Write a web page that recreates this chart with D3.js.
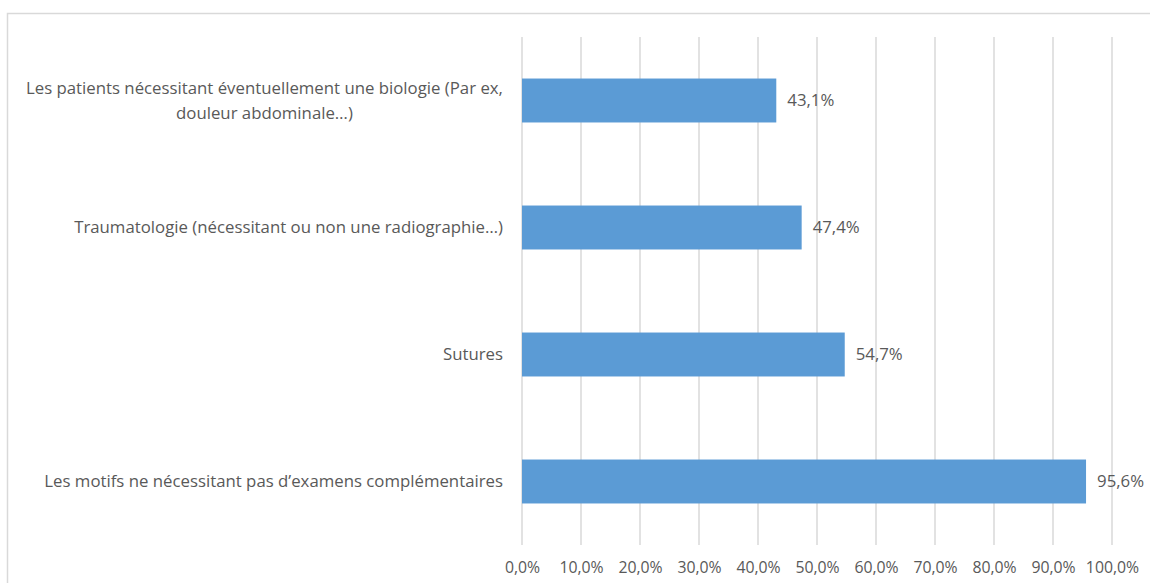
<!DOCTYPE html>
<html>
<head>
<meta charset="utf-8">
<script src="https://cdn.jsdelivr.net/npm/d3@7.9.0/dist/d3.min.js"></script>
<style>
  body { margin: 0; background: #fff; }
  svg { display: block; }
  text { font-family: "Open Sans", sans-serif; fill: #595959; }
</style>
</head>
<body>
<svg id="chart" width="1150" height="583"></svg>
<script>
// Data
const categories = [
    ["Les patients nécessitant éventuellement une biologie (Par ex,", "douleur abdominale…)"],
    ["Traumatologie (nécessitant ou non une radiographie…)"],
    ["Sutures"],
    ["Les motifs ne nécessitant pas d’examens complémentaires"]
];
const values = [0.431, 0.474, 0.547, 0.956];
const ticks = [0, 0.1, 0.2, 0.3, 0.4, 0.5, 0.6, 0.7, 0.8, 0.9, 1.0];

const fr = d3.formatLocale({ decimal: ",", thousands: " ", grouping: [3], currency: ["", " €"] });
const pct = fr.format(".1%");

const svg = d3.select("#chart");

// Outer chart border (right and bottom edges run off the picture)
svg.append("rect")
    .attr("x", 7.5)
    .attr("y", 13.5)
    .attr("width", 1200)
    .attr("height", 700)
    .attr("fill", "none")
    .attr("stroke", "#d9d9d9")
    .attr("stroke-width", 1.5);

const x = d3.scaleLinear()
    .domain([0, 1])
    .range([522, 1112]);

const y = d3.scaleBand()
    .domain(d3.range(categories.length))
    .range([37, 545])
    .paddingInner(0.654)
    .paddingOuter(0.327);

// Vertical gridlines
svg.append("g")
    .selectAll("line")
    .data(ticks)
    .enter()
    .append("line")
    .attr("x1", d => x(d))
    .attr("x2", d => x(d))
    .attr("y1", 37)
    .attr("y2", 545)
    .attr("stroke", "#d9d9d9")
    .attr("stroke-width", 1.5);

// Bars
svg.append("g")
    .selectAll("rect")
    .data(values)
    .enter()
    .append("rect")
    .attr("x", x(0))
    .attr("y", (d, i) => y(i))
    .attr("width", d => x(d) - x(0))
    .attr("height", y.bandwidth())
    .attr("fill", "#5b9bd5");

// Value labels
svg.append("g")
    .selectAll("text")
    .data(values)
    .enter()
    .append("text")
    .attr("x", d => x(d) + 11)
    .attr("y", (d, i) => y(i) + y.bandwidth() / 2)
    .attr("dy", "0.35em")
    .style("font-size", "16.8px")
    .text(d => pct(d));

// X axis tick labels
const xAxis = svg.append("g")
    .attr("transform", "translate(0,545)")
    .call(d3.axisBottom(x).tickValues(ticks).tickFormat(pct).tickSize(0).tickPadding(17));
xAxis.select(".domain").remove();
xAxis.selectAll("text")
    .style("font-family", "'Open Sans', sans-serif")
    .style("font-size", "15.8px")
    .attr("fill", "#595959");

// Category labels (wrapped lines centred on a common axis)
const catG = svg.append("g");
categories.forEach((lines, i) => {
    const cy = y(i) + y.bandwidth() / 2;
    const lineH = 25;
    const t = catG.append("text")
        .attr("text-anchor", "end")
        .style("font-size", "16.8px");
    lines.forEach((ln, j) => {
        t.append("tspan")
            .attr("x", 503)
            .attr("y", cy + (j - (lines.length - 1) / 2) * lineH)
            .attr("dy", "0.35em")
            .text(ln);
    });
    if (lines.length > 1) {
        // wrapped labels are centred under the widest line
        const w = t.node().getBBox().width;
        t.attr("text-anchor", "middle")
         .selectAll("tspan").attr("x", 503 - w / 2);
    }
});
</script>
</body>
</html>
